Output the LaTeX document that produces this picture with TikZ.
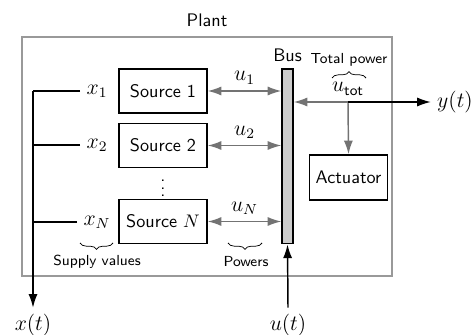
\documentclass[tikz,border=0pt]{standalone}
\usepackage{amsmath}
\usetikzlibrary{arrows.meta,positioning,decorations.pathreplacing}

\begin{document}
\begin{tikzpicture}[x=0.55pt,y=-0.55pt,>={Latex[length=7.5pt,width=5pt]},font=\sffamily,
  blk/.style={draw,thick,minimum width=48.4pt,minimum height=24.2pt},
  pw/.style={black!55,thick},
  mth/.style={font=\large},
  brc/.style={decorate,decoration={brace,amplitude=3.5pt}}]
\useasboundingbox (0,0) rectangle (472,335);
\draw[black!40,line width=.8pt] (22,37) rectangle (392,276);
\node (plant) at (207,20) {Plant};
% sources
\node[blk] (s1) at (163,91) {Source 1};
\node[blk] (s2) at (163,145.5) {Source 2};
\node[inner sep=0pt] (dots) at (163,183) {$\vdots$};
\node[blk] (sN) at (163,221.5) {Source $N$};
\node[draw,thick,fill=black!20,minimum width=6pt,minimum height=96pt,inner sep=0pt] (bus) at (287.5,156.5) {};
\node[above] (buslbl) at (bus.north) {Bus};
\node[blk,minimum width=42.4pt,minimum height=24.8pt] (act) at (348.5,177.5) {Actuator};
% supply values
\node[mth] (x1) at (97,91) {$x_1$};
\node[mth] (x2) at (97,145) {$x_2$};
\node[mth] (xN) at (97,222) {$x_N$};
\coordinate (c1) at (33,91);
\coordinate (c2) at (33,145);
\coordinate (cN) at (33,222);
\node[mth] (xt) at (33,325) {$x(t)$};
\draw[thick] (x1.west) -- (c1);
\draw[thick] (x2.west) -- (c2);
\draw[thick] (xN.west) -- (cN);
\draw[thick,->] (c1) -- (xt.north);
\draw[brc,decoration={mirror}] (80,243) -- (113,243);
\node[font=\footnotesize\sffamily] (sv) at (97,262) {Supply values};
% powers
\draw[pw,<->] (s1.east) -- (bus.west |- s1.east) node[midway,above,black,mth] {$u_1$};
\draw[pw,<->] (s2.east) -- (bus.west |- s2.east) node[midway,above,black,mth] {$u_2$};
\draw[pw,<->] (sN.east) -- (bus.west |- sN.east) node[midway,above,black,mth] {$u_N$};
\draw[brc,decoration={mirror}] (228,243) -- (262,243);
\node[font=\footnotesize\sffamily] (pwl) at (246,262) {Powers};
% total power
\coordinate (j) at (348,102);
\node[mth] (utot) at (348,89) {$u_{\textsf{tot}}$};
\draw[brc] (332,78) -- (366,78);
\node[font=\footnotesize\sffamily] (tp) at (349,60) {Total power};
\node[mth] (y) at (455,102) {$y(t)$};
\draw[pw,->] (j) -- (bus.east |- j);
\draw[pw,->] (j) -- (act.north);
\draw[thick,->] (j) -- (y.west);
\node[mth] (ut) at (288,325) {$u(t)$};
\draw[thick,->] (ut.north) -- (bus.south);
\end{tikzpicture}
\end{document}
